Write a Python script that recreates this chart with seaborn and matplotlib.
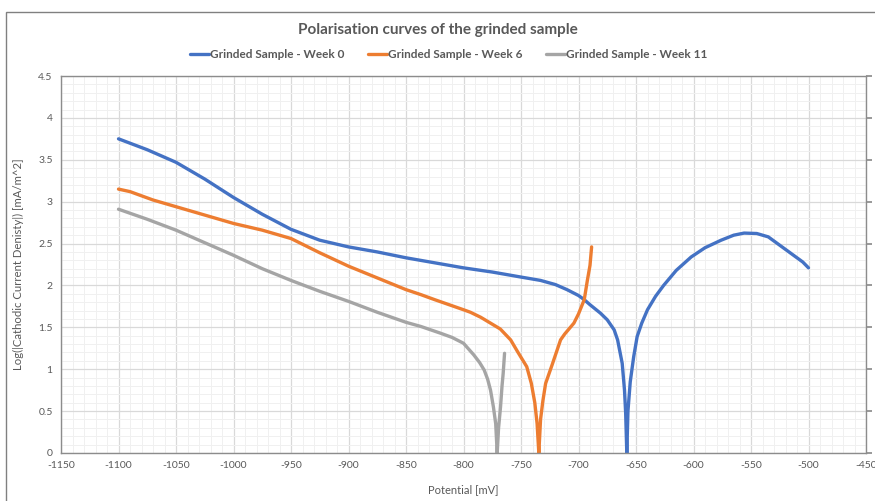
import numpy as np
import pandas as pd
import matplotlib
matplotlib.use("Agg")
import matplotlib.pyplot as plt
from matplotlib.patches import Rectangle
from matplotlib.ticker import MultipleLocator
import seaborn as sns

# ---- data ----
week0_x = [-1100, -1075, -1050, -1025, -1000, -975, -950, -925, -900, -875, -850, -825, -800,
           -775, -750, -733, -720, -710, -700, -695, -690, -681, -675, -669, -666, -662, -660,
           -659, -658, -657, -655, -652, -649, -645, -640, -633, -626, -615, -602, -590, -576,
           -565, -556, -545, -535, -524, -513, -505, -500]
week0_y = [3.75, 3.62, 3.47, 3.27, 3.05, 2.85, 2.67, 2.54, 2.46, 2.40, 2.33, 2.27, 2.21,
           2.16, 2.10, 2.06, 2.01, 1.95, 1.88, 1.83, 1.77, 1.67, 1.59, 1.47, 1.35, 1.07, 0.75,
           0.48, 0.0, 0.50, 0.85, 1.15, 1.39, 1.55, 1.71, 1.87, 2.00, 2.18, 2.34, 2.45, 2.54,
           2.60, 2.625, 2.62, 2.58, 2.47, 2.36, 2.28, 2.21]

week6_x = [-1100, -1090, -1080, -1070, -1050, -1025, -1000, -975, -950, -925, -900, -875,
           -850, -837, -825, -800, -794, -785, -768, -759, -753, -745, -741, -738, -736,
           -734.5, -733, -731, -728.6, -723, -715.6, -712, -704, -700, -695, -692.3, -690,
           -688.6]
week6_y = [3.15, 3.12, 3.07, 3.02, 2.94, 2.84, 2.74, 2.66, 2.56, 2.39, 2.23, 2.09,
           1.95, 1.89, 1.83, 1.71, 1.68, 1.62, 1.48, 1.35, 1.21, 1.03, 0.83, 0.60, 0.35,
           0.0, 0.40, 0.62, 0.83, 1.05, 1.35, 1.42, 1.55, 1.66, 1.83, 2.06, 2.24, 2.46]

week11_x = [-1100, -1075, -1050, -1025, -1000, -975, -950, -925, -900, -875, -850, -837,
            -820, -810, -800, -791, -786, -782, -779, -776.5, -774, -772, -770.7, -769.5,
            -767.8, -766.5, -765.5, -764.3]
week11_y = [2.91, 2.79, 2.66, 2.51, 2.36, 2.20, 2.06, 1.93, 1.81, 1.68, 1.56, 1.51,
            1.43, 1.38, 1.31, 1.17, 1.08, 0.99, 0.88, 0.75, 0.55, 0.35, 0.0, 0.30,
            0.55, 0.80, 0.95, 1.19]

series_names = ["Grinded Sample - Week 0", "Grinded Sample - Week 6", "Grinded Sample - Week 11"]
series_colors = ["#4472C4", "#ED7D31", "#A5A5A5"]

frames = []
for name, xs, ys in zip(series_names, [week0_x, week6_x, week11_x], [week0_y, week6_y, week11_y]):
    frames.append(pd.DataFrame({"Potential": xs, "LogI": ys, "Series": name}))
df = pd.concat(frames, ignore_index=True)

# ---- figure ----
sns.set_theme(style="white")
plt.rcParams["font.family"] = ["Lato", "DejaVu Sans"]

fig = plt.figure(figsize=(8.75, 5.01), dpi=100)
ax = fig.add_axes([61 / 875, 1 - 453 / 501, (866 - 61) / 875, (453 - 76) / 501])

sns.lineplot(data=df, x="Potential", y="LogI", hue="Series", hue_order=series_names,
             palette=dict(zip(series_names, series_colors)), sort=False, estimator=None,
             linewidth=2.4, ax=ax, legend=True,
             solid_capstyle="round", solid_joinstyle="round")

ax.set_xlim(-1150, -450)
ax.set_ylim(0, 4.5)
ax.xaxis.set_major_locator(MultipleLocator(50))
ax.xaxis.set_minor_locator(MultipleLocator(10))
ax.yaxis.set_major_locator(MultipleLocator(0.5))
ax.yaxis.set_minor_locator(MultipleLocator(0.1))
ax.grid(True, which="major", color="#D9D9D9", linewidth=0.9)
ax.grid(True, which="minor", color="#F0F0F0", linewidth=0.7)
ax.set_axisbelow(True)

ax.set_xticks(np.arange(-1150, -449, 50))
ax.set_xticklabels([f"{int(v)}" for v in np.arange(-1150, -449, 50)])
ax.set_yticks(np.arange(0, 4.51, 0.5))
ax.set_yticklabels([("%g" % v) for v in np.arange(0, 4.51, 0.5)])
ax.tick_params(axis="both", which="both", length=0, labelsize=7.5, labelcolor="#595959", pad=6)

for s in ax.spines.values():
    s.set_color("#8C8C8C")
    s.set_linewidth(1.0)

# secondary (right) axis tick marks, no labels
ax2 = ax.twinx()
ax2.set_ylim(0, 4.5)
ax2.yaxis.set_major_locator(MultipleLocator(0.5))
ax2.tick_params(axis="y", which="major", length=4, color="#8C8C8C", labelright=False)
for s in ax2.spines.values():
    s.set_visible(False)

ax.set_xlabel("Potential [mV]", fontsize=8, color="#595959", labelpad=10)
ax.set_ylabel("Log(|Cathodic Current Denisty|) [mA/m^2]", fontsize=8.2, color="#595959", labelpad=10)

handles, labels = ax.get_legend_handles_labels()
ax.get_legend().remove()
fig.legend(handles, labels, loc="center", bbox_to_anchor=(0.513, 1 - 55 / 501), ncol=3,
           frameon=False, handlelength=1.6, handletextpad=0.1,
           columnspacing=2.0, labelcolor="#595959", prop={"weight": "bold", "size": 8.5})

fig.text(0.5, 1 - 30 / 501, "Polarisation curves of the grinded sample", ha="center", va="center",
         fontsize=11, fontweight="bold", color="#595959")

fig.patches.append(Rectangle((6 / 875, -0.1), 1.5, 1 - 12 / 501 + 0.1, transform=fig.transFigure,
                             fill=False, edgecolor="#808080", linewidth=1.0))

fig.savefig("out.png", dpi=100)
